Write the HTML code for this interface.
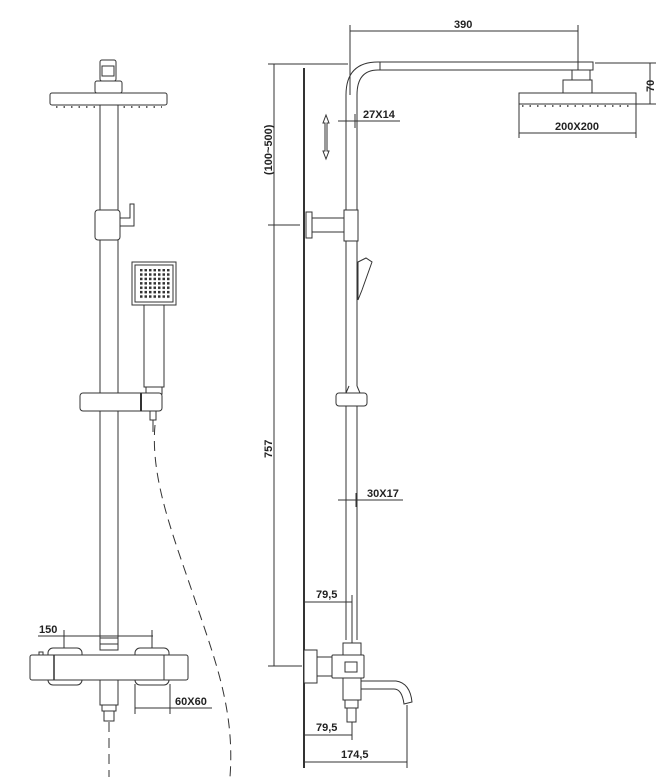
<!DOCTYPE html>
<html><head><style>html,body{margin:0;padding:0;background:#fff}svg{display:block}text{font-family:"Liberation Sans",sans-serif;font-weight:bold;font-size:11px;fill:#222}</style></head><body>
<svg width="667" height="777" viewBox="0 0 667 777" xmlns="http://www.w3.org/2000/svg">
<defs><pattern id="dots" width="4.5" height="4.4" patternUnits="userSpaceOnUse"><rect x="0.5" y="0.5" width="2.5" height="2.5" fill="#333"/></pattern></defs>
<g fill="#fff" stroke="#333" stroke-width="1">
<rect x="100" y="60" width="16" height="21" rx="2"/>
<rect x="102" y="66" width="12" height="10"/>
<rect x="95" y="81" width="27" height="12" rx="2"/>
<rect x="50" y="93" width="117" height="12" rx="2"/>
<line x1="56" y1="107" x2="162" y2="107" stroke-dasharray="1.5 6" stroke-width="1.5"/>
<rect x="100" y="105" width="18" height="545"/>
<rect x="95" y="210" width="25" height="30" rx="3"/>
<path d="M120 218 h10 v-14 h4 v22 h-14z"/>
<rect x="132" y="262" width="44" height="43"/>
<rect x="135" y="265" width="38" height="37"/>
<rect x="139" y="269" width="31" height="30" fill="url(#dots)" stroke="none"/>
<rect x="144" y="305" width="20" height="82"/>
<rect x="146" y="387" width="16" height="7"/>
<rect x="80" y="393" width="82" height="18" rx="3"/>
<line x1="141" y1="393" x2="141" y2="411" stroke-width="2"/>
<rect x="150" y="411" width="6" height="9"/>
<line x1="153" y1="420" x2="153" y2="432"/>
<path d="M155 425 C150 480,175 540,195 600 C215 660,235 710,230 777" fill="none" stroke-dasharray="10 6"/>
<rect x="48" y="648" width="34" height="37" rx="5"/>
<rect x="135" y="648" width="34" height="37" rx="5"/>
<rect x="39" y="652" width="4" height="4"/>
<rect x="30" y="655" width="158" height="25" rx="2"/>
<line x1="54" y1="655" x2="54" y2="680" stroke-width="1.5"/>
<line x1="164" y1="655" x2="164" y2="680"/>
<line x1="100" y1="638" x2="118" y2="638"/>
<line x1="100" y1="644" x2="118" y2="644"/>
<rect x="100" y="680" width="18" height="25"/>
<rect x="102" y="705" width="14" height="6"/>
<rect x="104" y="711" width="10" height="10"/>
<line x1="109" y1="722" x2="109" y2="777" stroke-dasharray="10 6"/>
<line x1="38" y1="636" x2="153" y2="636"/>
<line x1="64" y1="630" x2="64" y2="648"/>
<line x1="152" y1="630" x2="152" y2="648"/>
<line x1="135" y1="684" x2="135" y2="714"/>
<line x1="170" y1="684" x2="170" y2="714"/>
<line x1="135" y1="708" x2="212" y2="708"/>

<line x1="304" y1="68" x2="304" y2="768" stroke-width="2"/>
<line x1="274" y1="64" x2="274" y2="666"/>
<line x1="268" y1="64" x2="348" y2="64"/>
<line x1="268" y1="225" x2="300" y2="225"/>
<line x1="268" y1="666" x2="302" y2="666"/>
<path d="M346 640 V95 Q346 62 378 62 H593 V70 H378 Q357 70 357 95 V640"/>
<line x1="380" y1="62" x2="380" y2="70"/>
<rect x="572" y="70" width="18" height="10"/>
<rect x="563" y="80" width="29" height="13"/>
<rect x="519" y="93" width="117" height="11"/>
<line x1="522" y1="106" x2="634" y2="106" stroke-dasharray="1.5 6" stroke-width="1.5"/>
<line x1="350" y1="25" x2="350" y2="95"/>
<line x1="578" y1="25" x2="578" y2="70"/>
<line x1="350" y1="31" x2="578" y2="31"/>
<line x1="595" y1="63" x2="656" y2="63"/>
<line x1="636" y1="104" x2="656" y2="104"/>
<line x1="650" y1="63" x2="650" y2="104"/>
<line x1="519" y1="104" x2="519" y2="138"/>
<line x1="636" y1="104" x2="636" y2="138"/>
<line x1="519" y1="133" x2="636" y2="133"/>
<line x1="338" y1="121" x2="400" y2="121"/>
<line x1="346" y1="114" x2="346" y2="128"/>
<line x1="355" y1="114" x2="355" y2="128"/>
<path d="M326 115 l-3 8 h2 v28 h-2 l3 8 l3 -8 h-2 v-28 h2z"/>
<rect x="306" y="212" width="6" height="26"/>
<rect x="312" y="218" width="32" height="14"/>
<rect x="344" y="210" width="14" height="31"/>
<path d="M358 262 L366 258 L372 262 L362 290 L358 300z"/>
<path d="M349 386 l-3 7 h14 l-3 -7"/>
<rect x="336" y="393" width="31" height="13" rx="3"/>
<line x1="338" y1="500" x2="403" y2="500"/>
<line x1="346" y1="493" x2="346" y2="507"/>
<line x1="356" y1="493" x2="356" y2="507"/>
<line x1="305" y1="602" x2="352" y2="602"/>
<line x1="352" y1="595" x2="352" y2="643"/>
<rect x="343" y="643" width="18" height="12"/>
<rect x="304" y="650" width="13" height="33"/>
<rect x="317" y="657" width="15" height="19"/>
<rect x="332" y="655" width="32" height="23" rx="1"/>
<rect x="345" y="662" width="12" height="10"/>
<path d="M361 681 H396 Q410 683 412 702 L404 704 Q402 689 394 689 H361"/>
<rect x="343" y="678" width="18" height="22"/>
<rect x="345" y="700" width="13" height="8"/>
<rect x="347" y="708" width="9" height="14"/>
<line x1="352" y1="722" x2="352" y2="740"/>
<line x1="305" y1="735" x2="352" y2="735"/>
<line x1="407" y1="705" x2="407" y2="768"/>
<line x1="305" y1="762" x2="407" y2="762"/>
</g>
<text x="39" y="633">150</text>
<text x="175" y="705">60X60</text>
<text x="454" y="28">390</text>
<text x="363" y="118">27X14</text>
<text x="555" y="130">200X200</text>
<text transform="translate(654,92) rotate(-90)">70</text>
<text transform="translate(272,175) rotate(-90)">(100~500)</text>
<text transform="translate(272,458) rotate(-90)">757</text>
<text x="367" y="497">30X17</text>
<text x="316" y="598">79,5</text>
<text x="316" y="731">79,5</text>
<text x="341" y="758">174,5</text>
</svg>
</body></html>
